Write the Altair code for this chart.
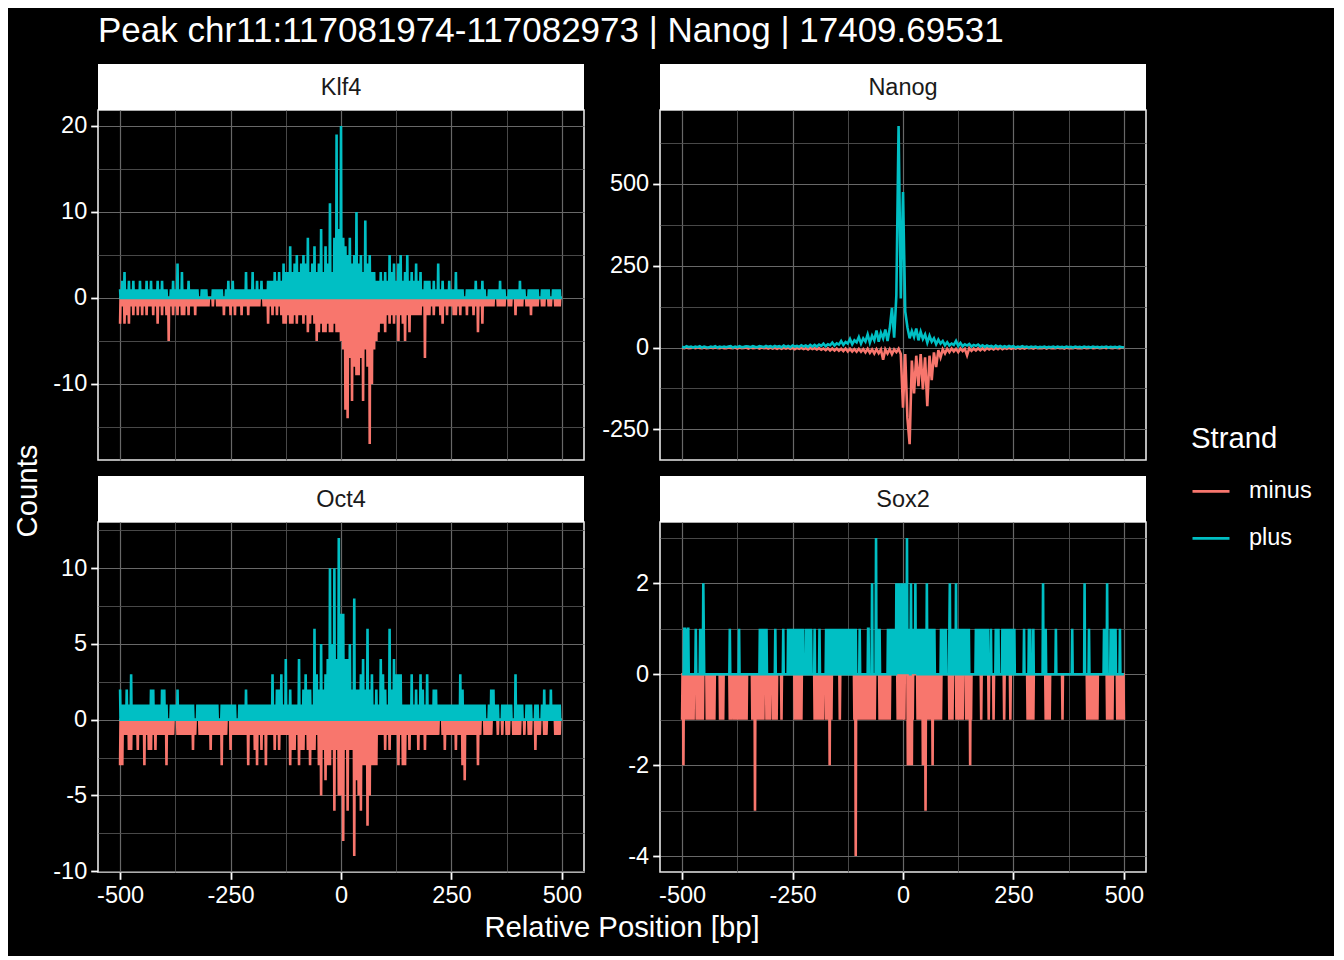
import json
import altair as alt
import pandas as pd

FONT = "Liberation Sans"
MINUS_COL = "#F8766D"
PLUS_COL = "#00BFC4"
GRID_MAJOR = "#686868"
GRID_MINOR = "#505050"

title_text = "Peak chr11:117081974-117082973 | Nanog | 17409.69531"
factors = ["Klf4", "Nanog", "Oct4", "Sox2"]
strands = ["minus", "plus"]

pos5 = list(range(-500, 501, 5))
pos1 = list(range(-500, 501))

# Klf4 / Oct4: read counts sampled every 5 bp (positions in between are 0)
klf4_plus = [
    1, 2, 3, 1, 2, 1, 2, 1, 1, 2, 1, 1, 2, 1, 2, 1, 1, 2, 1, 2,
    1, 1, 0, 1, 2, 1, 4, 1, 3, 1, 1, 2, 1, 1, 1, 1, 0, 1, 1, 1,
    0, 0, 1, 1, 1, 1, 1, 0, 1, 2, 1, 2, 1, 1, 1, 1, 1, 3, 1, 1,
    3, 1, 2, 1, 2, 1, 1, 2, 2, 2, 3, 2, 3, 2, 4, 3, 3, 6, 3, 4,
    5, 3, 4, 5, 4, 7, 3, 4, 6, 3, 4, 8, 3, 6, 4, 11, 3, 7, 19, 8,
    20, 7, 6, 5, 7, 4, 5, 10, 4, 5, 3, 9, 4, 5, 3, 3, 2, 2, 3, 2,
    3, 2, 5, 3, 4, 2, 4, 5, 2, 3, 5, 2, 3, 2, 4, 2, 3, 1, 2, 2,
    2, 1, 2, 1, 4, 1, 2, 1, 1, 2, 1, 1, 3, 1, 1, 1, 0, 1, 1, 1,
    1, 2, 1, 1, 2, 1, 0, 1, 1, 1, 1, 1, 2, 1, 1, 0, 1, 1, 1, 1,
    1, 2, 1, 1, 0, 1, 1, 1, 1, 1, 0, 1, 1, 1, 1, 0, 1, 1, 1, 1,
    0,
]
klf4_minus = [
    -3, -1, -3, -2, -3, -1, -2, -1, -2, -1, -2, -1, -2, -1, -1, -2, -1, -3, -1, -2,
    -1, -2, -5, -1, -2, -1, -2, -1, -2, -2, -1, -2, -1, -1, -2, -1, -1, -1, -1, -1,
    -1, 0, -1, 0, -1, -1, -1, -2, -1, -1, -2, -1, -2, -1, -1, -2, -1, -1, -2, -1,
    -1, -1, -1, -1, 0, -1, -1, -3, -1, -2, -1, -2, -1, -2, -3, -3, -2, -3, -3, -2,
    -3, -2, -2, -3, -2, -4, -3, -2, -3, -5, -4, -3, -4, -4, -3, -4, -4, -3, -4, -4,
    -5, -6, -13, -14, -7, -12, -8, -9, -9, -7, -12, -6, -8, -17, -10, -6, -5, -4, -3, -3,
    -4, -2, -3, -2, -3, -2, -5, -2, -3, -5, -2, -4, -2, -2, -2, -2, -2, -1, -7, -2,
    -2, -1, -2, -1, -1, -2, -3, -1, -2, -1, -1, -2, -2, -1, -2, -1, -1, -2, -1, -1,
    -2, -1, -4, -1, -3, -1, -1, -1, -1, -1, 0, -1, -1, -1, -1, 0, -1, -1, 0, -2,
    -1, -1, -1, 0, -1, -1, -2, -1, -1, -1, 0, -1, -1, 0, -1, -1, 0, -1, -1, -1,
    0,
]

oct4_plus = [
    2, 1, 1, 2, 1, 3, 1, 1, 1, 1, 1, 1, 1, 1, 2, 2, 1, 1, 1, 2,
    2, 1, 0, 1, 1, 1, 2, 1, 1, 1, 1, 1, 1, 1, 0, 1, 1, 1, 1, 1,
    1, 1, 1, 1, 1, 0, 1, 1, 1, 1, 1, 1, 1, 0, 1, 1, 1, 2, 1, 1,
    1, 1, 1, 1, 1, 1, 1, 1, 1, 3, 1, 2, 2, 3, 1, 4, 1, 2, 1, 1,
    1, 4, 1, 2, 3, 2, 2, 1, 6, 3, 2, 5, 2, 3, 4, 10, 5, 10, 4, 12,
    7, 7, 4, 4, 5, 2, 8, 2, 2, 3, 4, 2, 6, 2, 3, 1, 2, 1, 4, 3,
    2, 1, 6, 2, 4, 3, 3, 3, 1, 1, 1, 1, 3, 1, 2, 1, 3, 2, 1, 3,
    1, 1, 2, 2, 1, 1, 1, 1, 1, 1, 1, 1, 1, 1, 3, 2, 1, 1, 1, 1,
    1, 1, 1, 1, 1, 1, 0, 1, 2, 2, 1, 1, 0, 1, 1, 1, 1, 1, 0, 3,
    1, 1, 1, 0, 1, 1, 1, 0, 1, 1, 0, 1, 2, 1, 1, 2, 1, 1, 1, 1,
    0,
]
oct4_minus = [
    -3, -3, -1, -1, -2, -2, -1, -1, -2, -1, -1, -3, -1, -2, -2, -1, -2, -1, -1, -1,
    -1, -3, -1, -1, -1, 0, -1, -1, -1, -1, -1, -1, -1, -2, -1, 0, -1, -1, -1, -1,
    -1, -2, -1, -1, -1, -1, -3, -1, -1, 0, -2, -1, -1, -1, -1, -1, -1, -1, -3, -1,
    -1, -2, -3, -1, -2, -1, -3, -1, -1, -1, -2, -1, -2, -1, -1, -1, -1, -3, -2, -2,
    -1, -3, -2, -2, -1, -2, -3, -2, -2, -1, -3, -5, -2, -4, -3, -3, -2, -6, -2, -5,
    -5, -8, -2, -6, -2, -2, -9, -4, -5, -6, -3, -3, -7, -5, -3, -3, -3, -1, -1, -1,
    -2, -1, -2, -1, -1, -1, -3, -1, -3, -3, -1, -2, -1, -1, -1, -2, -1, -1, -2, -1,
    -1, -1, -1, -1, -1, 0, -1, -2, -1, -1, -1, -1, -2, -1, -1, -3, -4, -1, -1, -1,
    -1, -1, -3, -1, 0, -1, -1, -1, -1, 0, 0, -1, 0, -1, 0, -1, -1, 0, -1, -1,
    -1, -1, 0, -1, 0, -1, -1, 0, -2, -1, -1, 0, -1, -1, 0, 0, 0, -1, -1, -1,
    0,
]

# Nanog: continuous coverage, every 5 bp
nanog_plus = [
    2, 0, 4, 1, 3, 0, 3, 1, 4, 0, 3, 1, 0, 3, 1, 4, 0, 3, 1, 3,
    1, 3, 4, 0, 3, 1, 4, 1, 2, 4, 3, 1, 4, 2, 1, 4, 3, 1, 5, 2,
    4, 1, 5, 2, 4, 1, 6, 2, 5, 1, 6, 3, 5, 2, 7, 3, 6, 2, 8, 3,
    8, 3, 9, 5, 12, 4, 10, 7, 15, 6, 13, 9, 20, 8, 17, 12, 26, 10, 22, 16,
    32, 12, 28, 18, 40, 15, 36, 22, 52, 18, 45, 28, 55, 20, 58, 121, 30, 160, 677, 150,
    475, 110, 62, 28, 50, 32, 58, 22, 48, 26, 40, 15, 36, 18, 28, 10, 24, 12, 20, 7,
    16, 6, 12, 8, 20, 5, 14, 4, 10, 6, 11, 3, 8, 5, 9, 3, 7, 2, 6, 3,
    5, 1, 6, 2, 5, 1, 4, 1, 5, 2, 4, 0, 3, 1, 4, 1, 3, 0, 3, 1,
    3, 0, 2, 1, 3, 0, 2, 1, 3, 0, 3, 1, 2, 0, 3, 1, 2, 0, 3, 1,
    2, 0, 3, 1, 2, 0, 3, 1, 2, 0, 2, 1, 3, 0, 2, 1, 2, 0, 3, 1,
    1,
]
nanog_minus = [
    -1, -2, 0, -2, -1, 0, -2, 0, -1, -2, 0, -2, -1, 0, -2, 0, -1, -2, 0, -2,
    -2, 0, -1, -2, 0, -3, 0, -2, -1, 0, -3, 0, -2, -1, 0, -3, 0, -2, -1, -3,
    0, -3, -1, -4, 0, -4, -1, -3, 0, -4, -1, -5, -1, -4, -1, -5, -2, -6, -1, -5,
    -2, -6, -2, -7, -3, -8, -2, -9, -3, -9, -3, -10, -4, -11, -3, -12, -4, -12, -5, -13,
    -4, -13, -5, -15, -4, -16, -6, -18, -5, -17, -6, -37, -6, -18, -5, -20, -6, -14, -4, -20,
    -184, -20, -215, -295, -40, -140, -25, -118, -20, -128, -30, -179, -25, -100, -15, -60, -8, -30, -6, -18,
    -4, -14, -3, -12, -4, -14, -3, -11, -4, -24, -2, -10, -3, -9, -2, -8, -2, -8, -1, -6,
    -1, -6, -1, -5, 0, -5, -1, -4, 0, -4, -1, -3, 0, -3, -1, -3, 0, -2, -1, -3,
    0, -2, -1, -2, 0, -3, 0, -2, -1, -2, 0, -2, -1, -3, 0, -2, -1, -2, 0, -2,
    -1, -2, 0, -2, -1, 0, -2, -1, 0, -2, -1, 0, -2, 0, -1, -2, 0, -1, -2, 0,
    -1,
]

# Sox2: only the non-zero positions
sox2_plus_pos = [
    -495, -494, -490, -487, -486, -469, -459, -456, -452, -451, -392, -371,
    -324, -322, -318, -316, -312, -309, -289, -271, -260, -258, -255, -252,
    -250, -247, -245, -241, -238, -234, -230, -226, -219, -216, -212, -208,
    -200, -189, -174, -172, -169, -166, -164, -160, -157, -154, -150, -147,
    -144, -140, -136, -133, -129, -126, -122, -118, -115, -111, -107, -98,
    -79, -78, -70, -61, -58, -53, -34, -31, -27, -24, -21, -19, -15, -13,
    -11, -9, -7, -5, -3, -1, 1, 3, 5, 7, 9, 11, 13, 15, 18, 20, 22, 24, 26,
    28, 30, 32, 35, 37, 40, 42, 45, 48, 51, 54, 57, 60, 63, 66, 68, 71, 86,
    88, 94, 97, 105, 106, 108, 111, 113, 116, 118, 120, 123, 126, 130, 133,
    136, 140, 145, 149, 165, 168, 171, 175, 178, 181, 185, 188, 192, 199,
    210, 213, 216, 225, 228, 233, 237, 241, 244, 248, 252, 274, 285, 288,
    295, 317, 323, 346, 383, 411, 421, 455, 459, 462, 470, 474, 478, 481, 491,
]
sox2_plus_val = [
    1, 1, 1, 1, 1, 1, 1, 1, 2, 1, 1, 1,
    1, 1, 1, 1, 1, 1, 1, 1, 1, 1, 1, 1,
    1, 1, 1, 1, 1, 1, 1, 1, 1, 1, 1, 1,
    1, 1, 1, 1, 1, 1, 1, 1, 1, 1, 1, 1,
    1, 1, 1, 1, 1, 1, 1, 1, 1, 1, 1, 1,
    1, 1, 2, 3, 1, 1, 1, 1, 1, 1, 1, 1, 2, 2,
    1, 2, 1, 1, 2, 1, 1, 2, 1, 1, 3, 1, 1, 1, 2, 1, 1, 1, 1,
    2, 1, 1, 1, 1, 1, 1, 1, 1, 1, 2, 1, 1, 1, 1, 1, 1, 1,
    1, 1, 1, 1, 2, 1, 1, 1, 1, 1, 2, 1, 1, 1, 1,
    1, 1, 1, 1, 1, 1, 1, 1, 1, 1, 1, 1, 1, 1,
    1, 1, 1, 1, 1, 1, 1, 1, 1, 1, 1, 1, 1, 1,
    1, 2, 1, 1, 1, 2, 1, 1, 1, 2, 1, 1, 1, 1, 1,
]
sox2_minus_pos = [
    -500, -497, -495, -491, -486, -481, -476, -474, -467, -463, -458, -453,
    -444, -441, -438, -435, -431, -427, -414, -410, -407, -392, -389, -383,
    -380, -377, -373, -369, -366, -362, -358, -354, -341, -338, -335, -331,
    -327, -323, -319, -316, -309, -305, -301, -294, -290, -286, -275, -245,
    -241, -237, -233, -230, -200, -196, -192, -188, -184, -181, -174, -170,
    -166, -162, -143, -110, -107, -105, -102, -99, -96, -93, -90, -87, -84,
    -81, -78, -75, -72, -69, -66, -64, -53, -49, -45, -41, -37, -33, -30,
    -12, -9, -6, -3, 0, 3, 11, 13, 15, 18, 20, 22, 33, 36, 39, 42, 45, 47,
    49, 51, 53, 56, 59, 62, 64, 67, 70, 73, 75, 79, 82, 86, 105, 108, 112,
    121, 125, 128, 132, 135, 143, 147, 150, 152, 154, 177, 194, 205, 229,
    243, 282, 285, 289, 292, 295, 323, 326, 329, 332, 361, 417, 420, 424,
    428, 432, 436, 440, 462, 466, 470, 474, 485, 489, 493, 497, 500,
]
sox2_minus_val = [
    -1, -2, -1, -1, -1, -1, -1, -1, -1, -1, -1, -1,
    -1, -1, -1, -1, -1, -1, -1, -1, -1, -1, -1, -1,
    -1, -1, -1, -1, -1, -1, -1, -1, -1, -1, -3, -1,
    -1, -1, -1, -1, -1, -1, -1, -1, -1, -1, -1, -1,
    -1, -1, -1, -1, -1, -1, -1, -1, -1, -1, -1, -1,
    -2, -1, -1, -1, -4, -1, -1, -1, -1, -1, -1, -1, -1,
    -1, -1, -1, -1, -1, -1, -1, -1, -1, -1, -1, -1, -1, -1,
    -1, -1, -1, -1, -1, -1, -2, -2, -1, -2, -2, -1, -1, -1, -1, -1, -2, -2,
    -2, -3, -1, -1, -1, -1, -1, -2, -1, -1, -1, -1, -1, -1, -1, -1, -1,
    -1, -1, -1, -1, -1, -1, -1, -1, -2, -1, -1, -1, -1, -1,
    -1, -1, -1, -1, -1, -1, -1, -1, -1, -1, -1, -1, -1, -1,
    -1, -1, -1, -1, -1, -1, -1, -1, -1, -1, -1, -1, -1, -1, -1,
]

# tick marks: major (labelled) and minor (grid only)
x_major = [-500, -250, 0, 250, 500]
x_minor = [-375, -125, 125, 375]
y_ticks = {
    "Klf4": ([-10, 0, 10, 20], [-15, -5, 5, 15]),
    "Nanog": ([-250, 0, 250, 500], [-125, 125, 375, 625]),
    "Oct4": ([-10, -5, 0, 5, 10], [-7.5, -2.5, 2.5, 7.5, 12.5]),
    "Sox2": ([-4, -2, 0, 2], [-3, -1, 1, 3]),
}


def per_bp(xs, ys):
    d = dict(zip(xs, ys))
    return [d.get(p, 0) for p in pos1]


series = {
    "Klf4": (pos1, per_bp(pos5, klf4_minus), per_bp(pos5, klf4_plus)),
    "Nanog": (pos5, nanog_minus, nanog_plus),
    "Oct4": (pos1, per_bp(pos5, oct4_minus), per_bp(pos5, oct4_plus)),
    "Sox2": (pos1, per_bp(sox2_minus_pos, sox2_minus_val),
             per_bp(sox2_plus_pos, sox2_plus_val)),
}

rows = []
for f in factors:
    xs, mi, pl = series[f]
    for strand, ys in zip(strands, [mi, pl]):
        for x, y in zip(xs, ys):
            rows.append({"factor": f, "strand": strand, "pos": x, "count": y})
df = pd.DataFrame(rows)

PW, PH, SH = 486, 350, 45


def grid_axis(major, minor, labels=True):
    test = "indexof(%s, datum.value) >= 0" % json.dumps(major)
    return alt.Axis(
        title=None,
        values=sorted(major + minor),
        labelExpr="%s ? '' + datum.value : ''" % test,
        labels=labels,
        labelFlush=False,
        labelOverlap=False,
        labelFont=FONT,
        labelFontSize=23.5,
        labelColor="white",
        labelPadding=4,
        ticks=labels,
        tickColor="white",
        tickSize=7.3,
        tickWidth=1.8,
        tickOpacity={"condition": {"test": test, "value": 1}, "value": 0},
        gridColor={"condition": {"test": test, "value": GRID_MAJOR}, "value": GRID_MINOR},
        gridWidth={"condition": {"test": test, "value": 1.2}, "value": 0.9},
        domain=False,
    )


def panel(name, bottom=False):
    sub = df[df.factor == name]
    lo, hi = sub["count"].min(), sub["count"].max()
    pad = (hi - lo) * 0.05
    major, minor = y_ticks[name]
    base = alt.Chart(sub).mark_line(strokeWidth=2.6, clip=True).encode(
        x=alt.X("pos:Q", scale=alt.Scale(domain=[-550, 550], nice=False, zero=False),
                axis=grid_axis(x_major, x_minor, labels=bottom)),
        y=alt.Y("count:Q", scale=alt.Scale(domain=[lo - pad, hi + pad], nice=False, zero=False),
                axis=grid_axis(major, minor)),
        color=alt.Color("strand:N",
                        scale=alt.Scale(domain=strands, range=[MINUS_COL, PLUS_COL]),
                        legend=alt.Legend(title="Strand", orient="none", legendX=1183, legendY=315,
                                          titleFont=FONT, titleFontSize=29.3,
                                          titleFontWeight="normal", titleColor="white",
                                          titlePadding=17, labelFont=FONT, labelFontSize=23.5,
                                          labelColor="white", labelOffset=18,
                                          symbolType="stroke", symbolSize=1369,
                                          symbolStrokeWidth=2.8, rowPadding=15)),
        order="pos:Q",
    )
    minus = base.transform_filter(alt.datum.strand == "minus")
    plus = base.transform_filter(alt.datum.strand == "plus")
    # facet strip: white box above the panel with the factor name
    lab = alt.Chart(pd.DataFrame({"name": [name]}))
    box = lab.mark_rect(color="white", clip=False).encode(
        x=alt.value(0), x2=alt.value(PW), y=alt.value(-SH - 1), y2=alt.value(0)
    )
    txt = lab.mark_text(font=FONT, fontSize=23.5, color="#1a1a1a", baseline="middle",
                        clip=False).encode(
        text="name:N", x=alt.value(PW / 2), y=alt.value(-SH / 2)
    )
    return alt.layer(box, txt, minus, plus).properties(width=PW, height=PH)


grid = alt.concat(
    panel("Klf4"), panel("Nanog"), panel("Oct4", True), panel("Sox2", True),
    columns=2,
    spacing={"row": 14, "column": 15},
)

no_frame = alt.ViewBackground(strokeOpacity=0)

ytitle = alt.Chart(pd.DataFrame({"t": ["Counts"]})).mark_text(
    font=FONT, fontSize=29.3, color="white", angle=270, baseline="middle", align="center"
).encode(text="t:N", x=alt.value(20), y=alt.value(381)).properties(
    width=30, height=762, view=no_frame)

xtitle = alt.Chart(pd.DataFrame({"t": ["Relative Position [bp]"]})).mark_text(
    font=FONT, fontSize=29.3, color="white", baseline="middle", align="center"
).encode(text="t:N", x=alt.value(524), y=alt.value(20)).properties(
    width=1048, height=40, view=no_frame)

chart = alt.hconcat(
    ytitle,
    alt.vconcat(grid, xtitle, spacing=0),
    spacing=7,
).properties(
    title=alt.TitleParams(title_text, anchor="start", font=FONT, fontSize=35,
                          fontWeight="normal", color="white", dx=90, offset=14),
    background="black",
    padding={"left": 0, "top": 6, "right": 22, "bottom": 8},
).configure_view(
    stroke="#e6e6e6", strokeWidth=1.6, fill="black"
)

chart.save("out.html", embed_options={"renderer": "svg", "actions": False})
